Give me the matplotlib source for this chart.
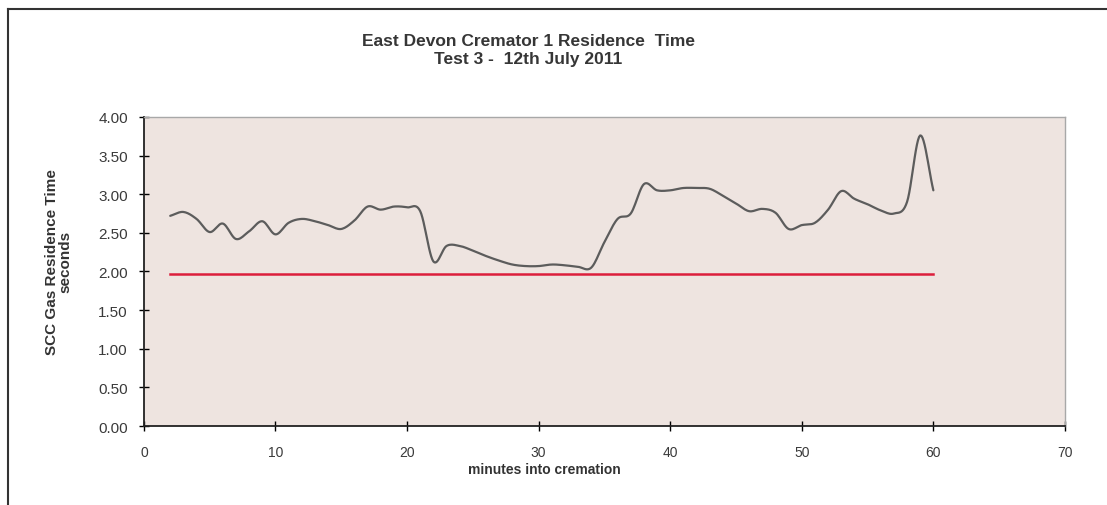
import matplotlib.pyplot as plt
import numpy as np
from matplotlib.lines import Line2D

plt.rcParams['font.family'] = ['Liberation Sans', 'DejaVu Sans']

# residence time readings, one per minute
minutes = list(range(2, 61))
residence = [2.72, 2.77, 2.68, 2.51, 2.62, 2.42, 2.52, 2.65, 2.48, 2.63,
             2.68, 2.65, 2.60, 2.55, 2.66, 2.84, 2.80, 2.84, 2.83, 2.78,
             2.13, 2.33, 2.33, 2.27, 2.20, 2.14, 2.09, 2.07, 2.07, 2.09,
             2.08, 2.06, 2.05, 2.38, 2.68, 2.75, 3.13, 3.05, 3.05, 3.08,
             3.08, 3.07, 2.98, 2.88, 2.78, 2.81, 2.76, 2.55, 2.60, 2.63,
             2.80, 3.04, 2.94, 2.87, 2.79, 2.75, 2.90, 3.76, 3.05]

# 2 second minimum requirement
limit_x = [2, 60]
limit_y = [1.97, 1.97]

x_ticks = [0, 10, 20, 30, 40, 50, 60, 70]
y_ticks = [0.0, 0.5, 1.0, 1.5, 2.0, 2.5, 3.0, 3.5, 4.0]


def smooth(x, y, steps=12):
    """Catmull-Rom curve through the points, like a smoothed spreadsheet line."""
    x = np.asarray(x, float)
    y = np.asarray(y, float)
    px = np.concatenate([[2 * x[0] - x[1]], x, [2 * x[-1] - x[-2]]])
    py = np.concatenate([[2 * y[0] - y[1]], y, [2 * y[-1] - y[-2]]])
    t = np.linspace(0, 1, steps, endpoint=False)
    xs, ys = [], []
    for i in range(1, len(px) - 2):
        for p, out in ((px, xs), (py, ys)):
            p0, p1, p2, p3 = p[i - 1], p[i], p[i + 1], p[i + 2]
            out.extend(0.5 * (2 * p1 + (-p0 + p2) * t
                              + (2 * p0 - 5 * p1 + 4 * p2 - p3) * t ** 2
                              + (-p0 + 3 * p1 - 3 * p2 + p3) * t ** 3))
    xs.append(x[-1])
    ys.append(y[-1])
    return np.array(xs), np.array(ys)


fig = plt.figure(figsize=(11.07, 5.06), dpi=100)
ax = fig.add_axes([0.130, 0.156, 0.832, 0.611])
ax.set_facecolor('#eee4e0')

sx, sy = smooth(minutes, residence)
ax.plot(sx, sy, color='#5c5c5c', lw=1.6, solid_capstyle='round')
ax.plot(limit_x, limit_y, color='#dc1e3c', lw=1.8)

ax.set_xlim(0, 70)
ax.set_ylim(0, 4)
ax.set_xticks(x_ticks)
ax.set_yticks(y_ticks)
ax.set_yticklabels([f'{v:.2f}' for v in y_ticks])
ax.tick_params(direction='inout', length=7, width=1.0, labelcolor='#3a3a3a')
ax.tick_params(axis='x', pad=10, labelsize=10)
ax.tick_params(axis='y', pad=8, labelsize=11)

for side in ('left', 'bottom'):
    ax.spines[side].set_color('#222222')
    ax.spines[side].set_linewidth(1.3)
for side in ('top', 'right'):
    ax.spines[side].set_color('#a8a8a8')
    ax.spines[side].set_linewidth(1.0)

fig.text(0.492, 0.071, 'minutes into cremation', ha='center', va='center',
         fontsize=10, fontweight='bold', color='#333333')
fig.text(0.053, 0.482, 'SCC Gas Residence Time\nseconds', ha='center',
         va='center', rotation=90, fontsize=11, fontweight='bold',
         color='#333333', linespacing=1.0, multialignment='center')

fig.text(0.477, 0.917, 'East Devon Cremator 1 Residence  Time',
         ha='center', va='center', fontsize=12.5, fontweight='bold',
         color='#363636')
fig.text(0.477, 0.882, 'Test 3 -  12th July 2011',
         ha='center', va='center', fontsize=12.5, fontweight='bold',
         color='#363636')

# outer chart border (top and left edges)
fig.add_artist(Line2D([0.007, 1.0], [0.980, 0.980], color='#333333', lw=1.5,
                      transform=fig.transFigure))
fig.add_artist(Line2D([0.007, 0.007], [0.0, 0.980], color='#333333', lw=1.5,
                      transform=fig.transFigure))

fig.savefig('out.png', dpi=100)
